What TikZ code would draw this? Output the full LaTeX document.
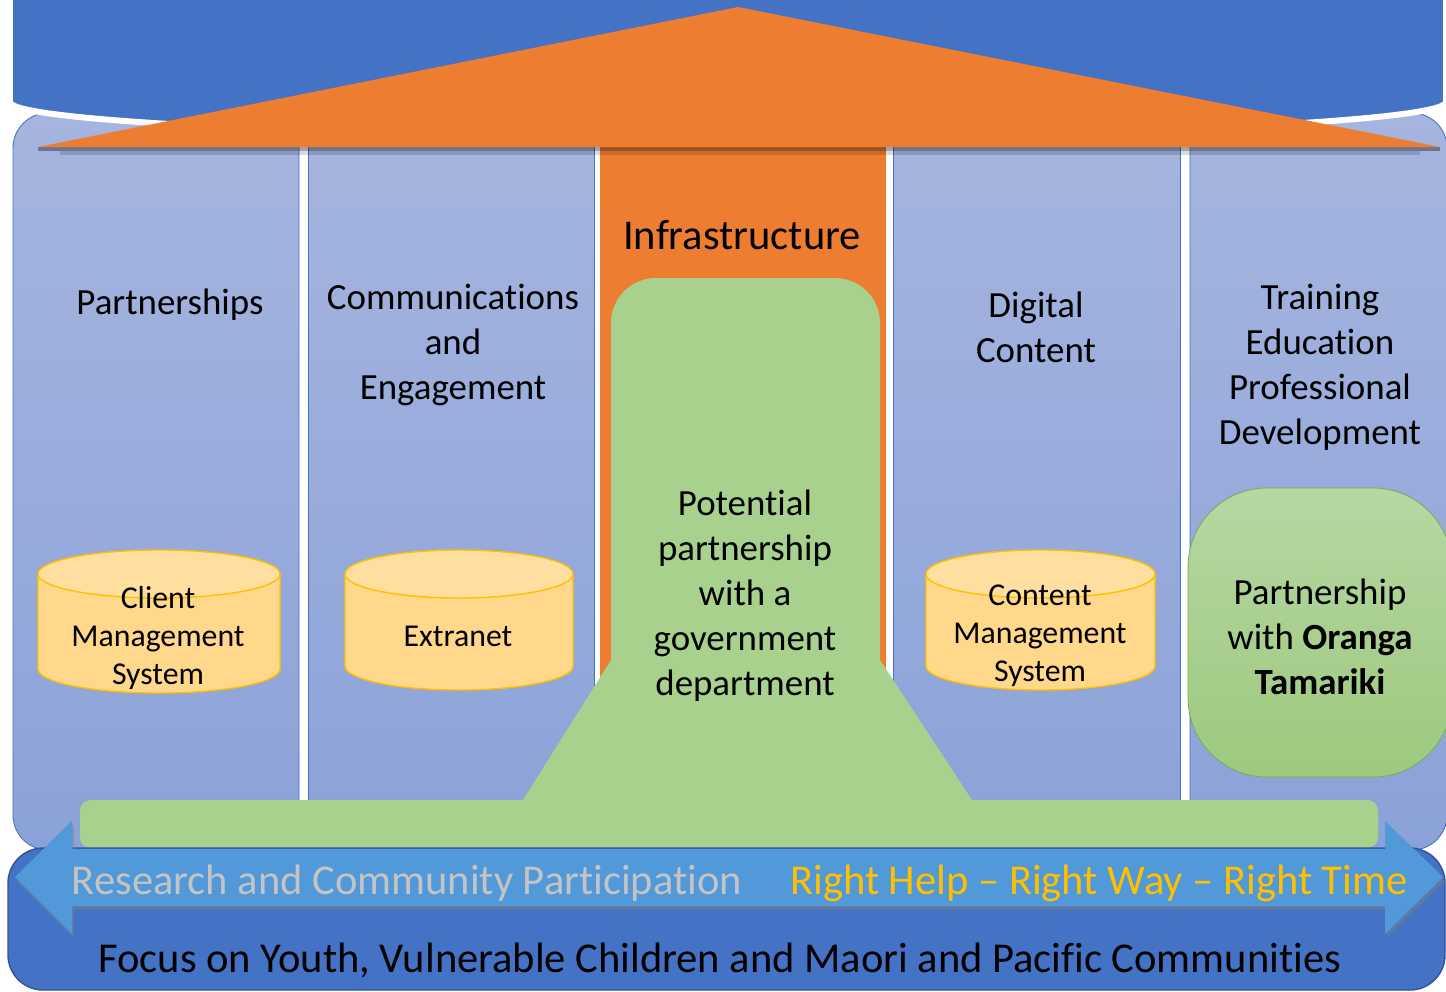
\documentclass[tikz,border=0pt]{standalone}
\usepackage{fontspec}
\setmainfont{Carlito}[Ligatures=NoCommon]
\usepackage{xcolor}
\usepackage{tikz}
\usetikzlibrary{shadows}

\definecolor{roofblue}{HTML}{4472C4}
\definecolor{roofline}{HTML}{2F5597}
\definecolor{pillartop}{HTML}{A6B5DF}
\definecolor{pillarbot}{HTML}{8BA2D8}
\definecolor{roofor}{HTML}{ED7D31}
\definecolor{leafgreen}{HTML}{A9D18E}
\definecolor{greentop}{HTML}{B6D7A2}
\definecolor{greenbot}{HTML}{9DC97E}
\definecolor{greenline}{HTML}{70AD47}
\definecolor{dbfill}{HTML}{FFD88C}
\definecolor{dbtop}{HTML}{FFDFA0}
\definecolor{dbline}{HTML}{FFC000}
\definecolor{arrowblue}{HTML}{5199D8}
\definecolor{softgrey}{HTML}{C4C4C4}
\definecolor{goldtext}{HTML}{FFC000}

\tikzset{
  pillar/.style={draw=roofblue, line width=0.5pt, top color=pillartop, bottom color=pillarbot},
  pillartext/.style={inner sep=0pt, align=center, font=\fontsize{21}{25.6}\selectfont},
  bandtext/.style={inner sep=0pt, align=center, font=\fontsize{24.2}{29}\selectfont},
  dbtext/.style={inner sep=0pt, align=center, font=\fontsize{18.1}{21.6}\selectfont},
  dbshape/.style={draw=dbline, line width=0.8pt, fill=dbfill},
}

\begin{document}
\begin{tikzpicture}[x=0.02cm, y=-0.02cm]
		\useasboundingbox (0,0) rectangle (1446,991);
		\clip (0,0) rectangle (1446,991);
		
		% pillars
		\draw[pillar] (299,113) -- (48,113) arc[start angle=270, end angle=180, radius=35]
			-- (13,815) arc[start angle=180, end angle=90, radius=35] -- (299,850) -- cycle;
		\foreach \xa/\xb in {308/594, 893/1180}{
			\draw[pillar] (\xa,113) rectangle (\xb,850);
		}
		\draw[pillar] (1190,113) -- (1412,113) arc[start angle=270, end angle=360, radius=35]
			-- (1447,815) arc[start angle=0, end angle=90, radius=35] -- (1190,850) -- cycle;
		\fill[roofor] (600,147) rectangle (886,800);
		
		% roof
		\draw[fill=roofblue, draw=white, line width=3.4pt] (10,-10) -- (10,102)
			arc[start angle=180, end angle=0, x radius=718, y radius=35] -- (1446,-10) -- cycle;
		\fill[black, opacity=0.35] (38,147) rectangle (1440,151);
		\fill[black, opacity=0.15] (60,151) rectangle (1420,155);
		\fill[roofor] (38,147) -- (738,7) -- (1440,147) -- cycle;
		
		% databases
		\foreach \xa/\xb/\yt/\yb in {38/280/574/669, 345/573/574/666, 926/1155/574/666}{
			\pgfmathsetmacro\rx{(\xb-\xa)/2}
			\draw[dbshape] (\xa,\yt) -- (\xa,\yb) arc[start angle=180, end angle=0, x radius=\rx, y radius=24] -- (\xb,\yt);
			\draw[dbshape, fill=dbtop] ({(\xa+\xb)/2},\yt) ellipse[x radius=\rx, y radius=24];
		}
		
		% government partnership
		\fill[leafgreen, rounded corners=6] (80,800) rectangle (1378,848);
		\fill[leafgreen] (523,805) -- (523,800) -- (611,660) -- (611,323) arc[start angle=180, end angle=270, radius=45]
			-- (835,278) arc[start angle=270, end angle=360, radius=45] -- (880,660) -- (972,800) -- (972,805) -- cycle;
		\draw[draw=greenline, top color=greentop, bottom color=greenbot, rounded corners=45] (1188,488) rectangle (1452,777);
		
		% base and arrow
		\draw[fill=roofblue, draw=roofline, line width=0.8pt, rounded corners=20] (8,848) rectangle (1445,990);
		\fill[arrowblue, drop shadow={shadow xshift=1pt, shadow yshift=-2pt, opacity=0.45}] (15,877) -- (72,821) -- (72,849)
			-- (1385,849) -- (1385,821) -- (1443,877) -- (1385,934) -- (1385,906) -- (72,906) -- (72,934) -- cycle;
		
		\node[pillartext] (partnerships) at (170,305) {Partnerships};
		\node[pillartext] (comms) at (453,345) {Communications\\and\\Engagement};
		\node[bandtext] (infra) at (742,235) {Infrastructure};
		\node[pillartext] (digital) at (1036,327) {Digital\\Content};
		\node[pillartext] (training) at (1320,367) {Training\\Education\\Professional\\Development};
		\node[pillartext] (govt) at (745,596) {Potential\\partnership\\with a\\government\\department};
		\node[pillartext] (oranga) at (1320,637) {Partnership\\with \textbf{Oranga}\\\textbf{Tamariki}};
		
		\node[dbtext] (clientms) at (158,638) {Client\\Management\\System};
		\node[dbtext] (extranet) at (458,636) {Extranet};
		\node[dbtext] (contentms) at (1040,636) {Content\\Management\\System};
		
		\node[bandtext, text=softgrey] (research) at (407,883) {Research and Community Participation};
		\node[bandtext, text=goldtext] (righttime) at (1099,883) {Right Help -- Right Way -- Right Time};
		\node[bandtext] (focus) at (720,960) {Focus on Youth, Vulnerable Children and Maori and Pacific Communities};
	\end{tikzpicture}
\end{document}
